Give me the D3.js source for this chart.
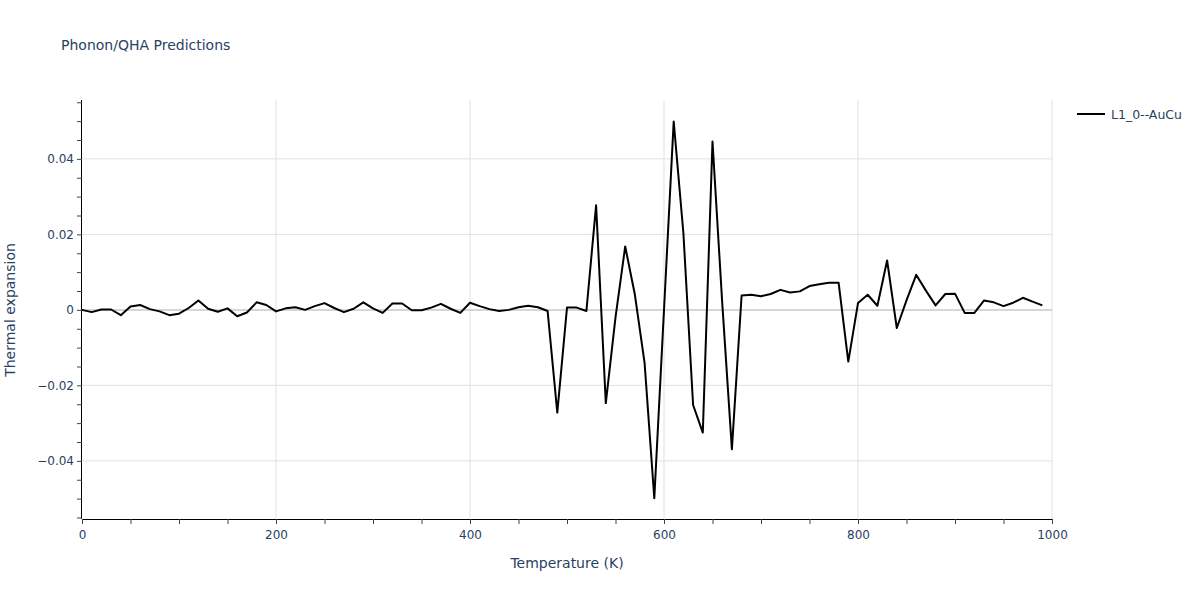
<!DOCTYPE html>
<html>
<head>
<meta charset="utf-8">
<script src="https://cdn.jsdelivr.net/npm/d3@7"></script>
<style>
  body { margin: 0; background: #fff; }
  svg text { font-family: "DejaVu Sans", Verdana, sans-serif; }
</style>
</head>
<body>
<svg width="1200" height="600"></svg>
<script>
// temperatures every 10 K from 0 to 990
var temps = d3.range(0, 1000, 10);

// thermal expansion, one per temperature
var expansion = [
  0.0000, -0.0006, 0.0001, 0.0001, -0.0014, 0.0009, 0.0013, 0.0002, -0.0004, -0.0014,
  -0.0010, 0.0005, 0.0025, 0.0003, -0.0005, 0.0004, -0.0017, -0.0007, 0.0020, 0.0013,
  -0.0004, 0.0004, 0.0007, 0.0000, 0.0010, 0.0018, 0.0005, -0.0006, 0.0003, 0.0020,
  0.0004, -0.0008, 0.0017, 0.0017, -0.0001, -0.0001, 0.0006, 0.0016, 0.0003, -0.0008,
  0.0019, 0.0010, 0.0002, -0.0003, 0.0000, 0.0007, 0.0011, 0.0007, -0.0003, -0.0272,
  0.0006, 0.0006, -0.0003, 0.0277, -0.0247, -0.0020, 0.0168, 0.0040, -0.0141, -0.0499,
  0.0000, 0.0499, 0.0203, -0.0252, -0.0325, 0.0446, 0.0020, -0.0369, 0.0038, 0.0040,
  0.0036, 0.0042, 0.0053, 0.0046, 0.0049, 0.0063, 0.0068, 0.0072, 0.0072, -0.0137,
  0.0018, 0.0040, 0.0011, 0.0131, -0.0048, 0.0025, 0.0093, 0.0051, 0.0012, 0.0042,
  0.0043, -0.0008, -0.0008, 0.0025, 0.0020, 0.0010, 0.0019, 0.0032, 0.0022, 0.0012
];

var seriesName = "L1_0--AuCu";
var xTickValues = [0, 200, 400, 600, 800, 1000];
var yTickValues = [-0.04, -0.02, 0, 0.02, 0.04];

var svg = d3.select("svg"),
    textColor = "#2a3f5f";

var x = d3.scaleLinear().domain([0, 1000]).range([82, 1052]);
var y = d3.scaleLinear().domain([-0.0554, 0.0556]).range([519, 100]);

var fmtY = function (d) { return d === 0 ? "0" : d3.format(".2f")(d).replace("-", "\u2212"); };

// grid lines
svg.append("g")
    .selectAll("line")
    .data(xTickValues.filter(function (d) { return d > 0; }))
    .enter().append("line")
    .attr("x1", function (d) { return x(d); })
    .attr("x2", function (d) { return x(d); })
    .attr("y1", 100).attr("y2", 519)
    .attr("stroke", "#e1e1e1").attr("stroke-width", 1);

svg.append("g")
    .selectAll("line")
    .data(yTickValues.filter(function (d) { return d !== 0; }))
    .enter().append("line")
    .attr("x1", 82).attr("x2", 1052)
    .attr("y1", function (d) { return y(d); })
    .attr("y2", function (d) { return y(d); })
    .attr("stroke", "#e1e1e1").attr("stroke-width", 1);

// zero line
svg.append("line")
    .attr("x1", 82).attr("x2", 1052)
    .attr("y1", y(0)).attr("y2", y(0))
    .attr("stroke", "#d6d6d6").attr("stroke-width", 2);

// axes: minor ticks every 50 K / 0.005, labels only on the major ones
var xAxis = d3.axisBottom(x)
    .tickValues(d3.range(0, 1001, 50))
    .tickSize(5).tickPadding(6)
    .tickFormat(function (d) { return xTickValues.indexOf(d) >= 0 ? d : ""; });

var yAxis = d3.axisLeft(y)
    .tickValues(d3.range(-11, 12).map(function (i) { return i * 0.005; }).filter(function (d) { return d >= -0.0554 && d <= 0.0556; }))
    .tickSize(5).tickPadding(3)
    .tickFormat(function (d) {
        var hit = yTickValues.filter(function (v) { return Math.abs(v - d) < 1e-9; });
        return hit.length ? fmtY(hit[0]) : "";
    });

var gx = svg.append("g").attr("transform", "translate(0,519)").call(xAxis);
var gy = svg.append("g").attr("transform", "translate(82,0)").call(yAxis);

[gx, gy].forEach(function (g) {
    g.select(".domain").attr("stroke", "#000").attr("stroke-width", 1);
    g.selectAll(".tick line").attr("stroke", "#444");
    g.selectAll(".tick text").attr("fill", textColor).style("font-size", "12px");
});
gx.select(".domain").attr("d", "M82,0.5H1052");
gy.select(".domain").attr("d", "M-0.5,100V519");

// the series
var line = d3.line()
    .x(function (d, i) { return x(temps[i]); })
    .y(function (d) { return y(d); });

svg.append("path")
    .datum(expansion)
    .attr("fill", "none")
    .attr("stroke", "#000")
    .attr("stroke-width", 2)
    .attr("stroke-linejoin", "round")
    .attr("d", line);

// titles
svg.append("text")
    .attr("x", 61).attr("y", 50)
    .attr("fill", textColor)
    .style("font-size", "14px")
    .text("Phonon/QHA Predictions");

svg.append("text")
    .attr("x", 567).attr("y", 568)
    .attr("text-anchor", "middle")
    .attr("fill", textColor)
    .style("font-size", "14px")
    .text("Temperature (K)");

svg.append("text")
    .attr("transform", "translate(15,310) rotate(-90)")
    .attr("text-anchor", "middle")
    .attr("fill", textColor)
    .style("font-size", "14px")
    .text("Thermal expansion");

// legend
var legend = svg.append("g").attr("transform", "translate(1077,114)");
legend.append("line")
    .attr("x1", 0).attr("x2", 28)
    .attr("stroke", "#000").attr("stroke-width", 2);
legend.append("text")
    .attr("x", 34).attr("y", 4.5)
    .attr("fill", textColor)
    .style("font-size", "12.5px")
    .text(seriesName);
</script>
</body>
</html>
